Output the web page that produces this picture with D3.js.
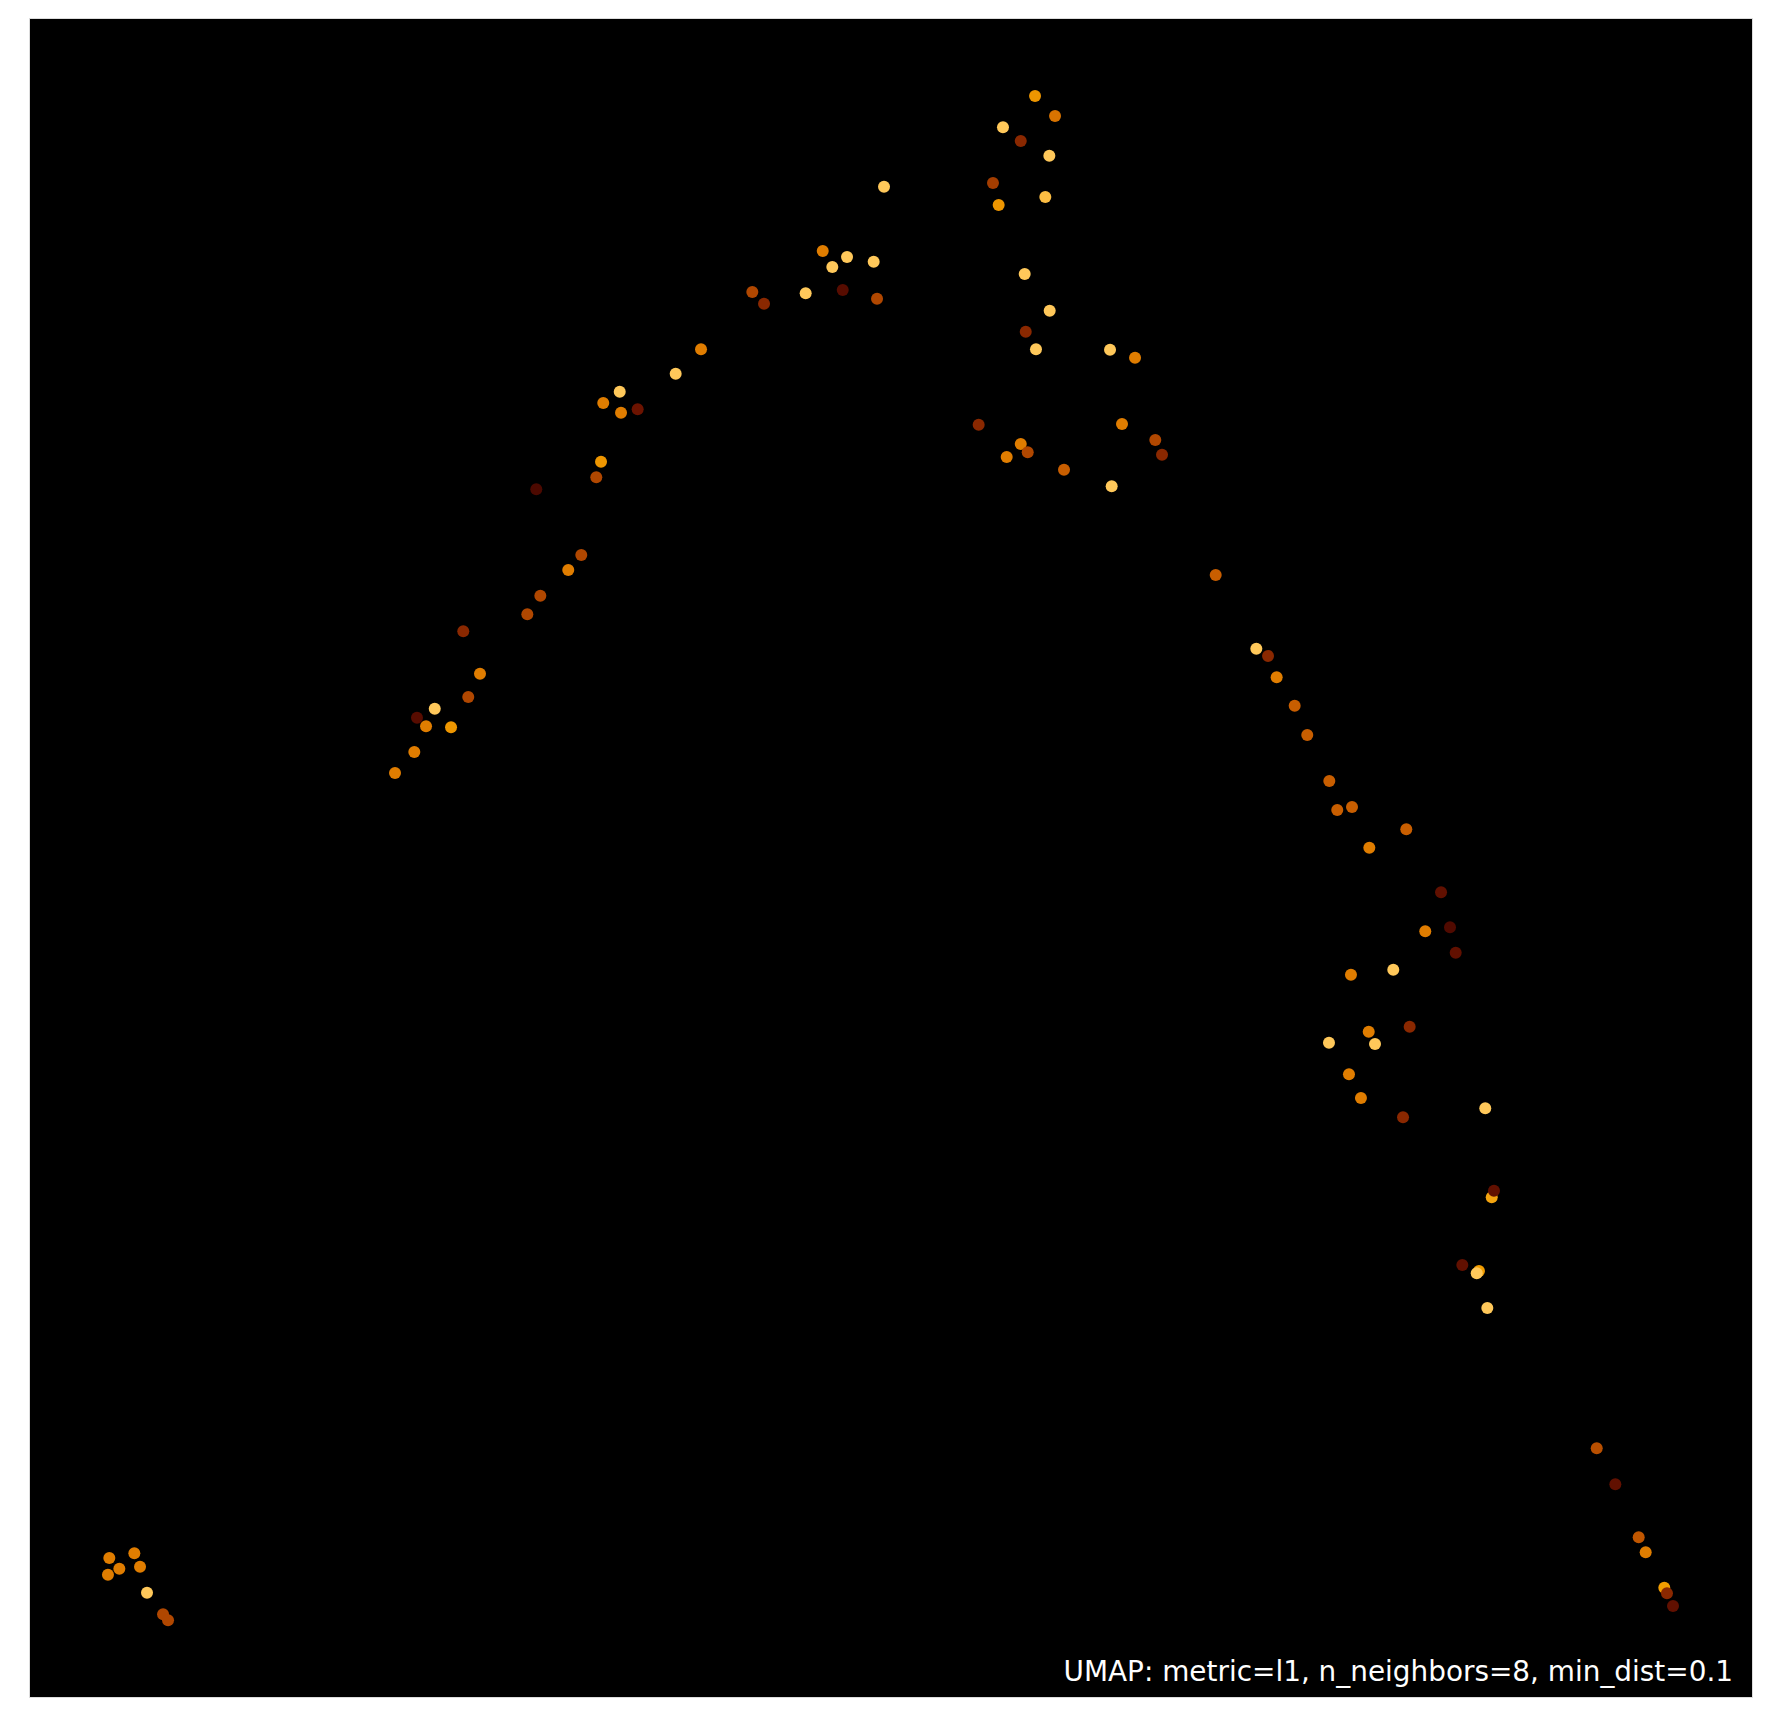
<!DOCTYPE html>
<html>
<head>
<meta charset="utf-8">
<script src="https://cdn.jsdelivr.net/npm/d3@7"></script>
<style>
  html, body { margin: 0; padding: 0; background: #ffffff; }
  svg { display: block; }
</style>
</head>
<body>
<script>
// ---- data (embedding coordinates) ----
const xs = [0.932,1.222,1.048,1.288,0.916,1.369,1.555,1.613,
  18.187,18.403,18.674,18.755,18.971,19.002,19.072,
  11.671,11.903,11.299,11.505,11.837,11.183,11.790,11.249,11.551,11.841,11.563,11.682,12.541,12.831,
  9.208,9.490,9.319,9.799,8.391,8.527,9.010,9.440,9.838,9.919,
  7.796,7.502,6.853,6.662,6.868,7.061,6.636,6.581,5.885,6.407,6.256,5.932,5.781,5.038,5.232,5.096,4.707,4.501,4.606,4.896,4.470,4.246,
  11.017,11.505,11.586,11.342,12.007,12.680,13.066,13.144,12.560,
  13.767,14.238,14.374,14.474,14.683,14.829,15.085,15.177,15.348,15.978,15.549,
  16.381,16.485,16.198,16.551,15.827,15.336,16.017,15.542,15.081,15.615,15.313,15.452,15.940,16.894,
  16.969,16.995,16.628,16.821,16.795,16.918];
const ys = [1.667,1.723,1.539,1.563,1.468,1.254,0.996,0.925,
  2.973,2.544,1.913,1.735,1.313,1.246,1.095,
  19.071,18.833,18.699,18.536,18.361,18.036,17.869,17.774,16.952,16.515,16.265,16.056,16.051,15.956,
  17.226,17.155,17.036,17.099,16.738,16.599,16.723,16.762,16.658,17.992,
  16.056,15.765,15.551,15.417,15.301,15.342,14.718,14.532,14.389,13.607,13.429,13.123,12.901,12.699,12.194,11.917,11.777,11.670,11.568,11.556,11.262,11.012,
  15.158,14.929,14.830,14.774,14.623,15.167,14.976,14.801,14.425,
  13.369,12.492,12.405,12.151,11.813,11.464,10.917,10.571,10.607,10.342,10.123,
  9.592,9.175,9.127,8.873,8.670,8.611,7.992,7.932,7.801,7.786,7.425,7.143,6.913,7.020,
  5.961,6.039,5.155,5.083,5.056,4.643];
const vals = [0.75,0.75,0.75,0.75,0.75,1.0,0.45,0.45,
  0.5,0.1,0.55,0.75,0.88,0.3,0.1,
  0.85,0.7,1.0,0.3,1.0,0.4,0.97,0.85,1.0,1.0,0.3,1.0,1.0,0.75,
  0.75,1.0,1.0,1.0,0.45,0.3,1.0,0.05,0.45,1.0,
  0.75,1.0,1.0,0.75,0.75,0.15,0.85,0.45,0.0,0.45,0.75,0.45,0.45,0.3,0.75,0.45,1.0,0.05,0.75,0.85,0.75,0.75,
  0.3,0.75,0.45,0.75,0.6,0.75,0.45,0.3,1.0,
  0.6,1.0,0.3,0.75,0.6,0.6,0.6,0.6,0.6,0.6,0.75,
  0.1,0.02,0.75,0.1,1.0,0.75,0.3,0.75,1.0,1.0,0.75,0.75,0.3,1.0,
  0.9,0.1,0.1,0.88,1.0,1.0];
const xDomain = [0, 20];
const yDomain = [0, 20];
const titleText = "UMAP: metric=l1, n_neighbors=8, min_dist=0.1";
const colorStops = [0, 0.15, 0.3, 0.45, 0.6, 0.75, 0.88, 1.0];
const colorRange = ["#4c0900", "#6c1300", "#8a2800", "#b04700", "#c85e00", "#e07d00", "#f29d00", "#ffc85a"];

// ---- layout ----
const W = 1771, H = 1727;
const plot = { left: 29, top: 18, right: 1753, bottom: 1698 };

const svg = d3.select("body").append("svg")
  .attr("width", W).attr("height", H);

svg.append("rect").attr("width", W).attr("height", H).attr("fill", "#ffffff");

const x = d3.scaleLinear().domain(xDomain).range([plot.left, plot.right]);
const y = d3.scaleLinear().domain(yDomain).range([plot.bottom, plot.top]);
const color = d3.scaleLinear().domain(colorStops).range(colorRange);

svg.append("rect")
  .attr("x", plot.left).attr("y", plot.top)
  .attr("width", plot.right - plot.left).attr("height", plot.bottom - plot.top)
  .attr("fill", "#000000");

const pts = xs.map((d, i) => ({ x: d, y: ys[i], v: vals[i] }));

svg.append("g").selectAll("circle").data(pts).join("circle")
  .attr("cx", d => x(d.x))
  .attr("cy", d => y(d.y))
  .attr("r", 6)
  .attr("fill", d => color(d.v));

svg.append("rect")
  .attr("x", plot.left + 0.5).attr("y", plot.top + 0.5)
  .attr("width", plot.right - plot.left - 1).attr("height", plot.bottom - plot.top - 1)
  .attr("fill", "none").attr("stroke", "#dcdcdc").attr("stroke-width", 1);

svg.append("text")
  .attr("x", plot.right - 20).attr("y", plot.bottom - 17)
  .attr("text-anchor", "end")
  .attr("font-family", "DejaVu Sans, sans-serif")
  .attr("font-size", 27.9)
  .attr("fill", "#ffffff")
  .text(titleText);
</script>
</body>
</html>
